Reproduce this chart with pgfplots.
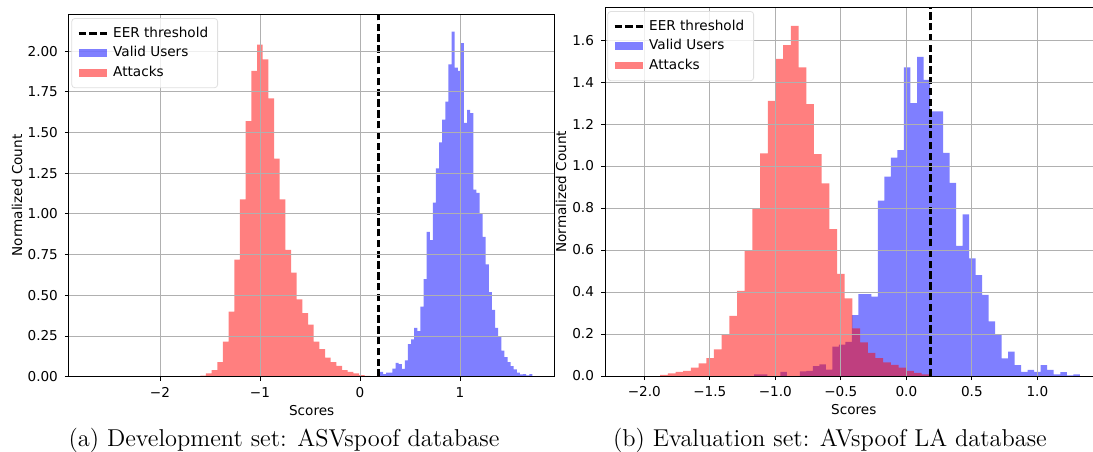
\documentclass[border=0pt]{standalone}
\usepackage{fontspec}
\usepackage{pgfplots}
\pgfplotsset{compat=1.18}
\newfontfamily\dejavu{DejaVu Sans}
\newcommand{\mplfont}{\dejavu\fontsize{6.8}{8}\selectfont}
\definecolor{gridgray}{RGB}{176,176,176}

% histogram bins: left edge, normalized count (last row closes the last bin)
\pgfplotstableread{
x y
-1.5970 0.006
-1.5403 0.020
-1.4836 0.040
-1.4269 0.090
-1.3702 0.215
-1.3135 0.400
-1.2568 0.720
-1.2001 1.090
-1.1434 1.570
-1.0867 1.880
-1.0300 2.040
-0.9733 1.950
-0.9166 1.710
-0.8599 1.340
-0.8032 1.090
-0.7465 0.780
-0.6898 0.640
-0.6331 0.475
-0.5764 0.390
-0.5197 0.320
-0.4630 0.215
-0.4063 0.170
-0.3496 0.117
-0.2929 0.090
-0.2362 0.066
-0.1795 0.040
-0.1228 0.030
-0.0661 0.020
-0.0094 0.010
0.0473 0.005
0.1040 0
}\devattacks

\pgfplotstableread{
x y
0.2000 0.030
0.2311 0.016
0.2622 0.025
0.2933 0.025
0.3244 0.050
0.3555 0.085
0.3866 0.078
0.4177 0.048
0.4488 0.100
0.4799 0.200
0.5110 0.230
0.5421 0.300
0.5732 0.280
0.6043 0.430
0.6354 0.600
0.6665 0.890
0.6976 0.840
0.7287 1.070
0.7598 1.280
0.7909 1.440
0.8220 1.580
0.8531 1.690
0.8842 1.920
0.9153 2.120
0.9464 1.900
0.9775 1.880
1.0086 2.050
1.0397 1.560
1.0708 1.640
1.1019 1.620
1.1330 1.150
1.1641 1.130
1.1952 1.000
1.2263 0.860
1.2574 0.690
1.2885 0.520
1.3196 0.410
1.3507 0.300
1.3818 0.245
1.4129 0.160
1.4440 0.120
1.4751 0.090
1.5062 0.065
1.5373 0.045
1.5684 0.025
1.5995 0.015
1.6306 0.016
1.6617 0.008
1.6928 0.016
1.7239 0
}\devvalid

\pgfplotstableread{
x y
-1.8792 0.005
-1.8205 0.013
-1.7618 0.020
-1.7031 0.025
-1.6444 0.040
-1.5857 0.060
-1.5270 0.085
-1.4683 0.127
-1.4096 0.195
-1.3509 0.286
-1.2922 0.405
-1.2335 0.597
-1.1748 0.800
-1.1161 1.060
-1.0574 1.310
-0.9987 1.510
-0.9400 1.576
-0.8813 1.668
-0.8226 1.470
-0.7639 1.295
-0.7052 1.057
-0.6465 0.917
-0.5878 0.700
-0.5291 0.486
-0.4704 0.370
-0.4117 0.227
-0.3530 0.160
-0.2943 0.110
-0.2356 0.085
-0.1769 0.065
-0.1182 0.053
-0.0595 0.040
-0.0008 0.025
0.0579 0.015
0.1166 0.008
0.1753 0
}\evalattacks

\pgfplotstableread{
x y
-1.1610 0.008
-1.1111 0.008
-1.0614 0
-1.0117 0
-0.9620 0.020
-0.9123 0
-0.8626 0
-0.8129 0.022
-0.7632 0.025
-0.7135 0.047
-0.6638 0.055
-0.6141 0.030
-0.5644 0.140
-0.5147 0.150
-0.4650 0.163
-0.4153 0.290
-0.3656 0.390
-0.3159 0.390
-0.2662 0.378
-0.2168 0.835
-0.1671 0.950
-0.1174 1.040
-0.0677 1.076
-0.0180 1.470
0.0317 1.300
0.0814 1.520
0.1311 1.410
0.1808 1.260
0.2305 1.260
0.2802 1.063
0.3299 0.920
0.3796 0.620
0.4293 0.770
0.4790 0.560
0.5287 0.480
0.5784 0.386
0.6281 0.260
0.6778 0.195
0.7275 0.084
0.7772 0.116
0.8269 0.052
0.8766 0.020
0.9263 0.029
0.9760 0.020
1.0257 0.052
1.0754 0.029
1.1251 0.008
1.1748 0.019
1.2245 0.003
1.2742 0.008
1.3239 0
}\evalvalid

\tikzset{eerline/.style={black, line width=1.3pt, dash pattern=on 3.7pt off 1.7pt}}

\pgfplotsset{
  histax/.style={
    scale only axis,
    anchor=south west,
    axis on top,
    axis line style={black, line width=0.5pt},
    tick align=outside,
    tick pos=left,
    major tick length=2pt,
    tick style={black, line width=0.5pt},
    grid=major,
    grid style={gridgray, line width=0.5pt},
    ymin=0,
    tick label style={font=\mplfont},
    xticklabel style={inner sep=0pt, anchor=north, yshift=-3pt},
    yticklabel style={inner sep=0pt, anchor=east, xshift=-3.35pt},
    every axis x label/.style={at={(axis description cs:0.5,0)}, anchor=center, yshift=-16.8pt, font=\mplfont},
    legend cell align=left,
    legend style={at={(axis description cs:0,1)}, anchor=north west,
      xshift=1.2pt, yshift=-1.9pt, draw=white!88!black, line width=0.4pt,
      fill=white, fill opacity=0.8, text opacity=1, rounded corners=1.5pt,
      font=\mplfont, inner xsep=2.7pt, inner ysep=2.6pt, column sep=0.5pt,
      nodes={inner ysep=1.7pt, text height=5pt, text depth=1.4pt}},
  },
  eerleg/.style={legend image code/.code={\draw[eerline, sharp corners] (0pt,0pt) -- (14.2pt,0pt);}},
  validleg/.style={legend image code/.code={\fill[blue, fill opacity=0.5, sharp corners] (0pt,-1.9pt) rectangle (14.2pt,1.9pt);}},
  attackleg/.style={legend image code/.code={\fill[red, fill opacity=0.5, sharp corners] (0pt,-1.9pt) rectangle (14.2pt,1.9pt);}},
}

\begin{document}
\begin{tikzpicture}
\useasboundingbox (0,0) rectangle (546.5pt,225.5pt);

% (a) development set
\begin{axis}[histax,
  at={(34.5pt,37.15pt)},
  width=242.65pt, height=181.2pt,
  xmin=-2.91, xmax=1.943, ymax=2.227,
  xtick={-2,-1,0,1}, xticklabels={−2,−1,0,1},
  ytick={0,0.25,0.5,0.75,1,1.25,1.5,1.75,2},
  yticklabels={0.00,0.25,0.50,0.75,1.00,1.25,1.50,1.75,2.00},
  xlabel={Scores}, ylabel={Normalized Count},
  every axis y label/.style={at={(axis description cs:-0.107,0.5)}, rotate=90, anchor=center, font=\mplfont},
]
\addplot[eerline, eerleg] coordinates {(0.187,0) (0.187,2.227)};
\addlegendentry{\mplfont EER threshold}
\addplot[const plot, fill=blue, fill opacity=0.5, draw=none, validleg] table {\devvalid} \closedcycle;
\addlegendentry{\mplfont Valid Users}
\addplot[const plot, fill=red, fill opacity=0.5, draw=none, attackleg] table {\devattacks} \closedcycle;
\addlegendentry{\mplfont Attacks}
\addplot[eerline, forget plot] coordinates {(0.187,0) (0.187,2.227)};
\end{axis}

% (b) evaluation set
\begin{axis}[histax,
  at={(302.5pt,37.5pt)},
  width=248.8pt, height=184.35pt,
  xmin=-2.30, xmax=1.498, ymax=1.756,
  xtick={-2,-1.5,-1,-0.5,0,0.5,1},
  xticklabels={−2.0,−1.5,−1.0,−0.5,0.0,0.5,1.0},
  ytick={0,0.2,0.4,0.6,0.8,1,1.2,1.4,1.6},
  yticklabels={0.0,0.2,0.4,0.6,0.8,1.0,1.2,1.4,1.6},
  xlabel={Scores}, ylabel={Normalized Count},
  every axis y label/.style={at={(axis description cs:-0.0884,0.5)}, rotate=90, anchor=center, font=\mplfont},
]
\addplot[eerline, eerleg] coordinates {(0.183,0) (0.183,1.756)};
\addlegendentry{\mplfont EER threshold}
\addplot[const plot, fill=blue, fill opacity=0.5, draw=none, validleg] table {\evalvalid} \closedcycle;
\addlegendentry{\mplfont Valid Users}
\addplot[const plot, fill=red, fill opacity=0.5, draw=none, attackleg] table {\evalattacks} \closedcycle;
\addlegendentry{\mplfont Attacks}
\addplot[eerline, forget plot] coordinates {(0.183,0) (0.183,1.756)};
\end{axis}

\node[anchor=base, font=\fontsize{12.2}{14}\selectfont, inner sep=0pt] at (142pt,2.15pt) {(a) Development set: ASVspoof database};
\node[anchor=base, font=\fontsize{12.2}{14}\selectfont, inner sep=0pt] at (415pt,2.15pt) {(b) Evaluation set: AVspoof LA database};
\end{tikzpicture}
\end{document}
